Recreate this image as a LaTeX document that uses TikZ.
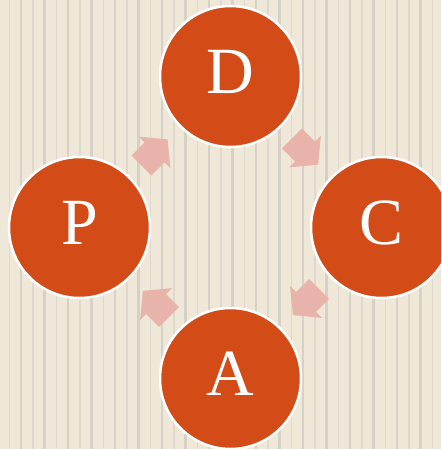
\documentclass[tikz,border=0pt]{standalone}
\usepackage{fontspec}
\setmainfont{Liberation Serif}
\definecolor{bg}{HTML}{EFE8D8}
\definecolor{stripeA}{HTML}{D6D1C6}
\definecolor{stripeB}{HTML}{DFD9CD}
\definecolor{circfill}{HTML}{D34B17}
\definecolor{arrowfill}{HTML}{E7B3AA}
\tikzset{
  phase/.style={circle, fill=circfill, draw=white, line width=2.5pt, minimum size=141pt,
    inner sep=0pt, text=white, font=\fontsize{66}{66}\selectfont, text depth=10pt},
  blockarrow/.style={fill=arrowfill}
}
\begin{document}
\begin{tikzpicture}[x=1pt,y=-1pt]
\useasboundingbox (0,0) rectangle (441,449);
\clip (0,0) rectangle (441,449);
\fill[bg] (0,0) rectangle (441,449);
\foreach \i in {0,...,18} {
  \fill[stripeA] ({21+23.5*\i-1.2},0) rectangle ++(2.4,449);
  \fill[stripeB] ({9.5+23.5*\i-0.6},0) rectangle ++(1.2,449);
}
\node[phase] (D) at (230.5,76.5) {D};
\node[phase] (C) at (381.5,227.5) {C};
\node[phase] (A) at (230.5,378.5) {A};
\node[phase] (P) at (79.5,227.5) {P};
\foreach \cx/\cy/\ang in {154.5/152.5/45, 305/151.5/-45, 306/302/-135, 156/304/135} {
  \begin{scope}[shift={(\cx,\cy)}, rotate=\ang]
    \fill[blockarrow] (-18.5,-14) -- (0,-14) -- (0,-22.5) -- (18.5,0) -- (0,22.5) -- (0,14) -- (-18.5,14) -- cycle;
  \end{scope}
}
\end{tikzpicture}
\end{document}
